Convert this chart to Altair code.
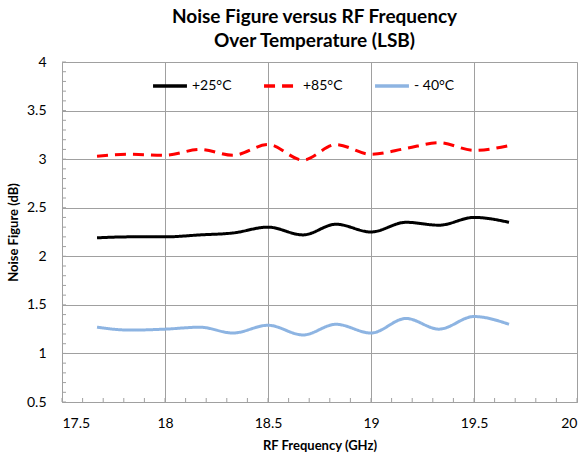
import altair as alt
import pandas as pd

freq = [17.67, 17.83, 18.0, 18.17, 18.33, 18.5, 18.67, 18.83, 19.0, 19.17, 19.33, 19.5, 19.67]
nf_p25 = [2.19, 2.20, 2.20, 2.22, 2.24, 2.30, 2.22, 2.33, 2.25, 2.35, 2.32, 2.40, 2.35]
nf_p85 = [3.03, 3.05, 3.04, 3.10, 3.04, 3.15, 2.99, 3.15, 3.05, 3.11, 3.17, 3.09, 3.14]
nf_m40 = [1.27, 1.24, 1.25, 1.27, 1.21, 1.29, 1.19, 1.30, 1.21, 1.36, 1.25, 1.38, 1.30]
series = ["+25°C", "+85°C", "- 40°C"]
colors = ["#000000", "#FF0000", "#8DB4E2"]
dashes = [[1, 0], [11, 7], [1, 0]]

x_major = [17.5, 18.0, 18.5, 19.0, 19.5, 20.0]
y_major = [0.5, 1.0, 1.5, 2.0, 2.5, 3.0, 3.5, 4.0]
x_minor = [round(17.5 + 0.1 * i, 1) for i in range(26)]
y_minor = [round(0.5 + 0.1 * i, 1) for i in range(36)]

rows = []
for name, vals in zip(series, [nf_p25, nf_p85, nf_m40]):
    for f, v in zip(freq, vals):
        rows.append({"freq": f, "nf": v, "series": name})
df = pd.DataFrame(rows)
df_xminor = pd.DataFrame({"freq": x_minor})
df_yminor = pd.DataFrame({"nf": y_minor})

FONT = "Lato"
GRAY = "#A0A0A0"

xscale = alt.Scale(domain=[17.5, 20], nice=False, zero=False)
yscale = alt.Scale(domain=[0.5, 4], nice=False, zero=False)

legend_cfg = dict(
    title=None, orient="none", direction="horizontal",
    legendX=89, legendY=5, symbolType="stroke",
    symbolSize=1150, symbolStrokeWidth=3.5,
    labelFont=FONT, labelFontSize=14, labelColor="#000000",
    labelOffset=3, columnPadding=25, padding=0,
)

lines = alt.Chart(df).mark_line(interpolate="monotone", strokeWidth=3).encode(
    x=alt.X("freq:Q", scale=xscale, axis=alt.Axis(
        orient="bottom", values=x_major, format=".1~f", grid=True, gridColor=GRAY,
        domainColor=GRAY, ticks=False, labelFontSize=14, labelColor="#000000",
        labelFont=FONT, labelPadding=14, title="RF Frequency (GHz)",
        titleFont=FONT, titleFontSize=13, titleFontWeight="bold", titleColor="#000000",
        titlePadding=9)),
    y=alt.Y("nf:Q", scale=yscale, axis=alt.Axis(
        orient="left", values=y_major, format=".1~f", grid=True, gridColor=GRAY,
        domainColor=GRAY, ticks=False, labelFontSize=14, labelColor="#000000",
        labelFont=FONT, labelPadding=16, title="Noise Figure (dB)",
        titleFont=FONT, titleFontSize=13, titleFontWeight="bold", titleColor="#000000",
        titleX=-42)),
    color=alt.Color("series:N", scale=alt.Scale(domain=series, range=colors),
                    sort=series, legend=alt.Legend(**legend_cfg)),
    strokeDash=alt.StrokeDash("series:N", scale=alt.Scale(domain=series, range=dashes),
                              sort=series, legend=alt.Legend(**legend_cfg)),
)

xticks = alt.Chart(df_xminor).mark_tick(
    orient="vertical", size=4, thickness=1, color=GRAY, opacity=1
).encode(
    x=alt.X("freq:Q", scale=xscale, axis=None),
    y=alt.value(338),
)

yticks = alt.Chart(df_yminor).mark_tick(
    orient="horizontal", size=4, thickness=1, color=GRAY, opacity=1
).encode(
    y=alt.Y("nf:Q", scale=yscale, axis=None),
    x=alt.value(2),
)

chart = alt.layer(lines, xticks, yticks).resolve_axis(
    x="independent", y="independent"
).properties(
    width=515,
    height=340,
    title=alt.Title(
        ["Noise Figure versus RF Frequency", "Over Temperature (LSB)"],
        font=FONT, fontSize=19, fontWeight="bold", color="#000000",
        anchor="middle", offset=4, lineHeight=24, dx=-5,
    ),
    autosize=alt.AutoSizeParams(type="none"),
    padding={"left": 62, "top": 62, "right": 10, "bottom": 58},
).configure_view(stroke=GRAY, strokeWidth=1).configure(background="#FFFFFF")

chart.save("out.html", embed_options={"renderer": "svg", "actions": False})
